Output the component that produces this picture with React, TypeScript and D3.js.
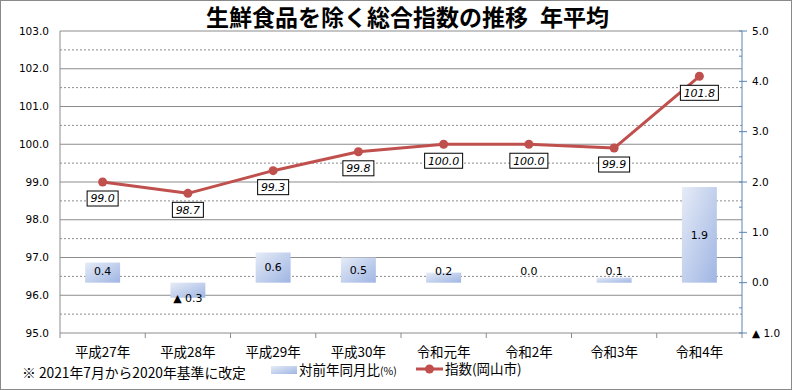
import * as d3 from "d3"
import { useEffect } from "react"

const categories = ["平成27年", "平成28年", "平成29年", "平成30年", "令和元年", "令和2年", "令和3年", "令和4年"]
const indexValues = [99.0, 98.7, 99.3, 99.8, 100.0, 100.0, 99.9, 101.8] // 指数(岡山市)
const yoyValues = [0.4, -0.3, 0.6, 0.5, 0.2, 0.0, 0.1, 1.9] // 対前年同月比(%)
const leftTicks = [95, 96, 97, 98, 99, 100, 101, 102, 103]
const rightTicks = [-1, 0, 1, 2, 3, 4, 5]

const W = 792
const H = 390
const M = { left: 60, right: 742, top: 31, bottom: 333 }
const NUM_FONT = "'DejaVu Sans', Verdana, sans-serif"
const JP_FONT = "'Noto Sans CJK JP', sans-serif"
const GRID = "#8c8c8c"
const LINE = "#c0504d"
const AXIS_R = "#5a83b5"

const fmt = (v: number) => (v < 0 ? "▲ " + Math.abs(v).toFixed(1) : v.toFixed(1))

export default function App() {
    useEffect(() => {
        document.body.style.margin = "0"
    }, [])

    const x = d3.scaleBand<string>().domain(categories).range([M.left, M.right])
    const yL = d3.scaleLinear().domain([95, 103]).range([M.bottom, M.top])
    const yR = d3.scaleLinear().domain([-1, 5]).range([M.bottom, M.top])
    const cx = (c: string) => (x(c) ?? 0) + x.bandwidth() / 2
    const barW = x.bandwidth() * 0.41

    const line = d3.line<number>()
        .x((_, i) => cx(categories[i]))
        .y((d) => yL(d))

    const halfTicks = d3.range(95.5, 103, 1)

    return (
        <svg width={W} height={H} style={{ display: "block", background: "#fff" }}>
            <defs>
                <linearGradient id="barGrad" x1="0" y1="0" x2="1" y2="1">
                    <stop offset="0%" stopColor="#e6ecf7" />
                    <stop offset="100%" stopColor="#9fb5e3" />
                </linearGradient>
            </defs>
            <rect x={0.5} y={0.5} width={W - 1} height={H - 1} fill="#fff" stroke="#8a8a8a" />

            {/* title */}
            <text x={206} y={26} fontFamily={JP_FONT} fontWeight="bold" fontSize={23} fill="#000">
                <tspan>生鮮食品を除く総合指数の推移</tspan>
                <tspan dx={12}>年平均</tspan>
            </text>

            {/* gridlines */}
            {leftTicks.map((t) => (
                <line key={"g" + t} x1={M.left} x2={M.right} y1={yL(t)} y2={yL(t)} stroke={GRID} strokeWidth={1} />
            ))}
            {halfTicks.map((t) => (
                <line key={"h" + t} x1={M.left} x2={M.right} y1={yL(t)} y2={yL(t)} stroke={GRID} strokeWidth={1} strokeDasharray="2,2" />
            ))}

            {/* left axis */}
            <line x1={M.left} x2={M.left} y1={M.top} y2={M.bottom} stroke={GRID} />
            {leftTicks.map((t) => (
                <text key={"lt" + t} x={49} y={yL(t)} dy="0.35em" textAnchor="end" fontFamily={NUM_FONT} fontSize={10.5} fill="#000">
                    {t.toFixed(1)}
                </text>
            ))}

            {/* bottom axis */}
            {d3.range(0, categories.length + 1).map((i) => {
                const xx = M.left + i * x.bandwidth()
                return <line key={"bt" + i} x1={xx} x2={xx} y1={M.bottom} y2={M.bottom + 5} stroke={GRID} />
            })}
            {categories.map((c) => (
                <text key={"c" + c} x={cx(c)} y={352} dy="0.35em" textAnchor="middle" fontFamily={JP_FONT} fontSize={13.5} fill="#000">
                    {c}
                </text>
            ))}

            {/* right axis */}
            <line x1={M.right} x2={M.right} y1={M.top} y2={M.bottom} stroke={AXIS_R} />
            {rightTicks.map((t) => (
                <line key={"rt" + t} x1={M.right - 3} x2={M.right + 5} y1={yR(t)} y2={yR(t)} stroke={AXIS_R} />
            ))}
            {d3.range(-0.5, 5, 1).map((t) => (
                <line key={"rm" + t} x1={M.right - 3} x2={M.right} y1={yR(t)} y2={yR(t)} stroke={AXIS_R} />
            ))}
            {rightTicks.map((t) => (
                <text key={"rl" + t} x={752} y={yR(t)} dy="0.35em" fontFamily={NUM_FONT} fontSize={10.5} fill="#000">
                    {fmt(t)}
                </text>
            ))}

            {/* bars */}
            {yoyValues.map((v, i) => {
                const c = categories[i]
                const y0 = yR(0)
                const y1 = yR(v)
                return (
                    <rect key={"b" + i} x={cx(c) - barW / 2} y={Math.min(y0, y1)} width={barW} height={Math.abs(y1 - y0)} fill="url(#barGrad)" />
                )
            })}
            {yoyValues.map((v, i) => {
                const c = categories[i]
                const y0 = yR(0)
                const ly = v < 0 ? y0 + 15 : Math.min((y0 + yR(v)) / 2, y0 - 12)
                return (
                    <text key={"bl" + i} x={cx(c)} y={ly} dy="0.35em" textAnchor="middle" fontFamily={NUM_FONT} fontSize={11} fill="#000">
                        {fmt(v)}
                    </text>
                )
            })}

            {/* index line */}
            <path d={line(indexValues) ?? ""} fill="none" stroke={LINE} strokeWidth={3} strokeLinejoin="round" />
            {indexValues.map((v, i) => (
                <circle key={"p" + i} cx={cx(categories[i])} cy={yL(v)} r={4.5} fill={LINE} />
            ))}
            {indexValues.map((v, i) => {
                const label = v.toFixed(1)
                const bw = label.length * 7 + 3
                const px = cx(categories[i])
                const top = yL(v) + 9
                return (
                    <g key={"pl" + i}>
                        <rect x={px - bw / 2} y={top} width={bw} height={15} fill="#fff" stroke="#000" strokeWidth={1} />
                        <text x={px} y={top + 7.5} dy="0.35em" textAnchor="middle" fontFamily={NUM_FONT} fontStyle="italic" fontSize={11} fill="#000">
                            {label}
                        </text>
                    </g>
                )
            })}

            {/* footnote */}
            <text x={22} y={373} dy="0.35em" fontFamily={JP_FONT} fontSize={13.8} fill="#000">
                ※ 2021年7月から2020年基準に改定
            </text>

            {/* legend */}
            <rect x={271} y={366} width={26} height={8} fill="url(#barGrad)" />
            <text x={299} y={370} dy="0.35em" fontFamily={JP_FONT} fontSize={13.5} fill="#000">
                対前年同月比<tspan fontSize={10.5}>(%)</tspan>
            </text>
            <line x1={416} x2={443} y1={369} y2={369} stroke={LINE} strokeWidth={3} />
            <circle cx={429.5} cy={369} r={4.5} fill={LINE} />
            <text x={445} y={369} dy="0.35em" fontFamily={JP_FONT} fontSize={13.5} fill="#000">
                指数(岡山市)
            </text>
        </svg>
    )
}
